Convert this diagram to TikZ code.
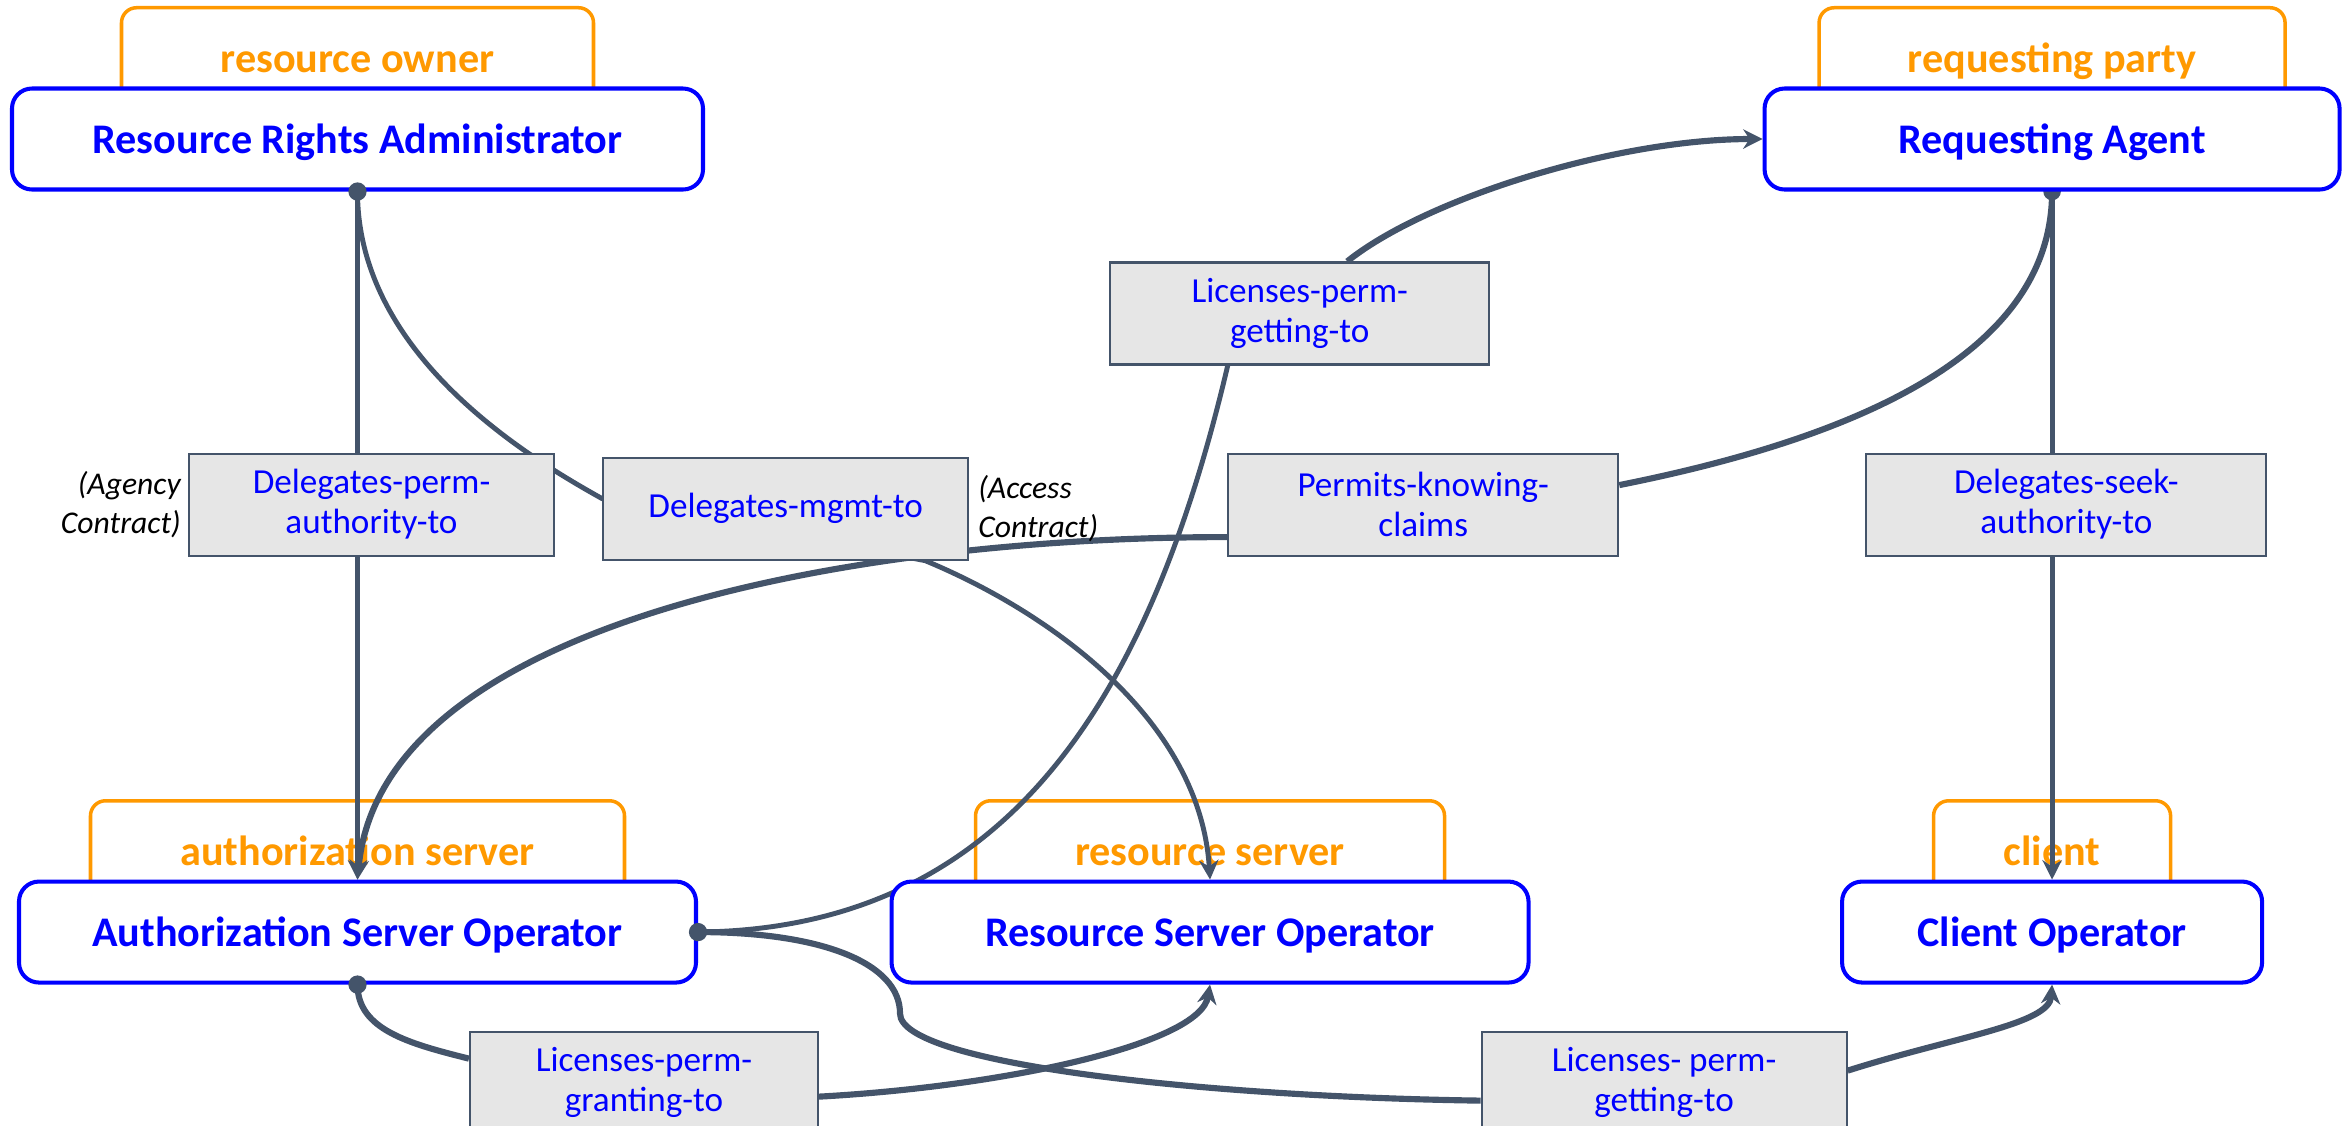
\documentclass[tikz,border=0pt]{standalone}
\usepackage{fontspec}
\setmainfont{Carlito}
\usetikzlibrary{positioning,arrows.meta}

\definecolor{umablue}{RGB}{0,0,255}
\definecolor{umaorange}{RGB}{255,153,0}
\definecolor{umaslate}{RGB}{68,84,106}
\definecolor{umagray}{RGB}{230,230,230}

\pgfdeclarelayer{tabs}
\pgfdeclarelayer{wires}
\pgfsetlayers{tabs,wires,main}

\tikzset{
	party/.style={draw=umablue, fill=white, line width=1.15pt, rounded corners=0.2cm,
		minimum height=1.01cm, text=umablue, font=\fontsize{12}{14}\selectfont\bfseries,
		text height=10pt, text depth=2pt},
	role/.style={draw=umaorange, fill=white, line width=1pt, rounded corners=0.15cm,
		minimum height=1.1cm, text=umaorange, font=\fontsize{12}{14}\selectfont\bfseries,
		text height=8pt, text depth=2.5pt},
	relation/.style={draw=umaslate, fill=umagray, line width=0.6pt, minimum height=1.02cm,
		align=center, text=umablue, font=\fontsize{10}{11.4}\selectfont},
	contract/.style={inner sep=1pt, font=\fontsize{9}{11}\selectfont\itshape},
	wire/.style={draw=umaslate, line width=1.4pt},
	heavy wire/.style={wire, line width=1.75pt},
	arrowed/.style={-{Stealth[length=5.5pt,width=5.5pt]}}
}

\begin{document}
\begin{tikzpicture}
	\useasboundingbox (0,0) rectangle (23.49,-11.25);

	% Set up the parties
	\node[party, minimum width=6.91cm] (RRA) at (3.575,-1.39) {Resource Rights Administrator};
	\node[party, minimum width=6.77cm, below=6.88cm of RRA] (ASO) {Authorization Server Operator};
	\node[party, minimum width=6.37cm, right=1.915cm of ASO] (RSO) {Resource Server Operator};
	\node[party, minimum width=4.2cm, right=3.095cm of RSO] (CO) {Client Operator};
	\node[party, minimum width=5.75cm, above=6.88cm of CO] (RA) {Requesting Agent};

	% Set up the roles behind the parties
	\begin{pgfonlayer}{tabs}
		\node[role, minimum width=4.72cm, above=-0.33cm of RRA] (owner) {resource owner};
		\node[role, minimum width=4.66cm, above=-0.33cm of RA] (party) {requesting party};
		\node[role, minimum width=5.34cm, above=-0.33cm of ASO] (authz) {authorization server};
		\node[role, minimum width=4.69cm, above=-0.33cm of RSO] (rserver) {resource server};
		\node[role, minimum width=2.37cm, above=-0.33cm of CO] (client) {client};
	\end{pgfonlayer}

	% Set up the relations
	\node[relation, minimum width=3.65cm, below=2.61cm of RRA, xshift=0.14cm] (DPA) {Delegates-perm-\\authority-to};
	\node[relation, minimum width=3.65cm, right=0.47cm of DPA, yshift=-0.04cm] (DMT) {Delegates-mgmt-to};
	\node[relation, minimum width=3.9cm, right=2.58cm of DMT, yshift=0.04cm] (PKC) {Permits-knowing-\\claims};
	\node[relation, minimum width=4cm, right=2.46cm of PKC] (DSA) {Delegates-seek-\\authority-to};
	\node[relation, minimum width=3.79cm, above=0.87cm of PKC, xshift=-1.235cm] (LPGt) {Licenses-perm-\\getting-to};
	\node[relation, minimum width=3.48cm, below=0.46cm of ASO, xshift=2.865cm] (LPGr) {Licenses-perm-\\granting-to};
	\node[relation, minimum width=3.65cm, right=6.615cm of LPGr] (LPGb) {Licenses- perm-\\getting-to};

	% Contract notes
	\node[contract, align=right, left=0.03cm of DPA] (agency) {(Agency\\Contract)};
	\node[contract, align=left, right=0.05cm of DMT] (access) {(Access\\Contract)};

	% Add the arrows
	\coordinate (bend) at ([shift={(2.02,-0.815)}]ASO.east);
	\begin{pgfonlayer}{wires}
		\draw[wire, arrowed] (RRA.south) -- (ASO.north);
		\draw[wire, arrowed] (RRA.south) .. controls +(0,-1.6) and +(-0.81,0.45) .. ([yshift=1mm]DMT.west)
			-- ([xshift=-4.4mm]DMT.south east) .. controls +(1.28,-0.53) and +(-0.1,1.58) .. (RSO.north);
		\draw[wire] (ASO.east) .. controls +(3.05,0.03) and +(-0.8,-3.4) .. ([xshift=-7.2mm]LPGt.south);
		\draw[heavy wire, arrowed] ([xshift=4.75mm]LPGt.north) .. controls +(0.77,0.62) and +(-1.48,0) .. (RA.west);
		\draw[heavy wire] (RA.south) .. controls +(0,-1.5) and +(2.66,0.53) .. ([yshift=1.95mm]PKC.east);
		\draw[heavy wire, arrowed] ([yshift=-3.25mm]PKC.west) .. controls +(-3.74,0) and +(0.235,2.58) .. (ASO.north);
		\draw[wire, arrowed] (RA.south) -- (CO.north);
		\draw[heavy wire] (ASO.south) .. controls +(0,-0.45) and +(-0.6,0.15) .. ([yshift=2.4mm]LPGr.west);
		\draw[heavy wire, arrowed] ([yshift=-1.4mm]LPGr.east) .. controls +(1.83,0.1) and +(-0.1,-0.6) .. (RSO.south);
		\draw[heavy wire] (ASO.east) .. controls +(1.25,0) and +(0,0.5) .. (bend)
			.. controls +(0,-0.5) and +(-2.8,0.04) .. ([yshift=-1.8mm]LPGb.west);
		\draw[heavy wire, arrowed] ([yshift=1.2mm]LPGb.east) .. controls +(1.07,0.34) and +(-0.03,-0.4) .. (CO.south);
		\fill[umaslate] (RA.south) circle (2.5pt);
	\end{pgfonlayer}

	% Start dots
	\fill[umaslate] (RRA.south) circle (2.6pt);
	\fill[umaslate] (ASO.east) circle (2.6pt);
	\fill[umaslate] (ASO.south) circle (2.6pt);
\end{tikzpicture}
\end{document}
